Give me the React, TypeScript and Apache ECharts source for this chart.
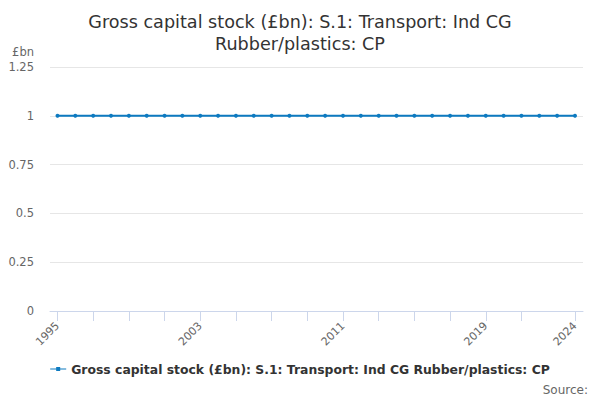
import React, { useEffect, useRef } from "react";
import * as echarts from "echarts";

const years: number[] = [
  1995, 1996, 1997, 1998, 1999, 2000, 2001, 2002, 2003, 2004, 2005, 2006, 2007, 2008, 2009,
  2010, 2011, 2012, 2013, 2014, 2015, 2016, 2017, 2018, 2019, 2020, 2021, 2022, 2023, 2024,
];
const values: number[] = [
  1, 1, 1, 1, 1, 1, 1, 1, 1, 1, 1, 1, 1, 1, 1,
  1, 1, 1, 1, 1, 1, 1, 1, 1, 1, 1, 1, 1, 1, 1,
];
const xLabelYears: number[] = [1995, 2003, 2011, 2019, 2024];
const xTickYears: number[] = [1995, 1997, 1999, 2001, 2003, 2005, 2007, 2009, 2011, 2013, 2015, 2017, 2019, 2021, 2024];
const seriesName = "Gross capital stock (£bn): S.1: Transport: Ind CG Rubber/plastics: CP";
const titleText = "Gross capital stock (£bn): S.1: Transport: Ind CG\nRubber/plastics: CP";

const FONT = "DejaVu Sans";
const COLOR = "#0d7ac0";

export default function App() {
  const ref = useRef<HTMLDivElement>(null);
  useEffect(() => {
    if (!ref.current) return;
    const chart = echarts.init(ref.current, null, { renderer: "svg" });
    chart.setOption({
      animation: false,
      textStyle: { fontFamily: FONT },
      title: {
        text: titleText,
        left: "center",
        top: 6,
        textStyle: { fontFamily: FONT, fontSize: 17.6, fontWeight: "normal", color: "#333333", lineHeight: 22 },
      },
      grid: { left: 50, right: 17, top: 67, bottom: 89 },
      xAxis: {
        type: "value",
        min: 1994.58,
        max: 2024.45,
        splitLine: { show: false },
        axisLine: { show: true, lineStyle: { color: "#ccd6eb", width: 1 } },
        axisTick: { show: true, length: 10, lineStyle: { color: "#ccd6eb" }, customValues: xTickYears },
        axisLabel: {
          customValues: xLabelYears,
          rotate: 45,
          color: "#666666",
          fontSize: 11,
          fontFamily: FONT,
          margin: 13,
          formatter: (v: number) => String(Math.round(v)),
        },
      },
      yAxis: {
        type: "value",
        min: 0,
        max: 1.25,
        interval: 0.25,
        name: "£bn",
        nameLocation: "end",
        nameGap: 9,
        nameTextStyle: { color: "#666666", fontSize: 11.5, fontFamily: FONT, align: "right", padding: [0, 16, 0, 0] },
        axisLine: { show: false },
        axisTick: { show: false },
        splitLine: { lineStyle: { color: "#e6e6e6", width: 1 } },
        axisLabel: { color: "#666666", fontSize: 11.5, fontFamily: FONT, margin: 16 },
      },
      legend: {
        bottom: 20,
        left: "center",
        itemWidth: 16,
        itemHeight: 8,
        itemGap: 10,
        textStyle: { fontFamily: FONT, fontSize: 12.4, fontWeight: "bold", color: "#333333" },
        data: [{ name: seriesName, icon: "path://M0,3.5 L16,3.5 L16,4.5 L0,4.5 Z M6,2 L10,2 L10,6 L6,6 Z" }],
      },
      graphic: [
        {
          type: "text",
          right: 12,
          bottom: 4,
          style: { text: "Source:", fill: "#666666", fontSize: 12, fontFamily: FONT },
        },
      ],
      series: [
        {
          name: seriesName,
          type: "line",
          data: years.map((y, i) => [y, values[i]]),
          color: COLOR,
          lineStyle: { width: 2, color: COLOR },
          symbol: "circle",
          symbolSize: 4,
          itemStyle: { color: COLOR },
        },
      ],
    });
    return () => chart.dispose();
  }, []);
  return <div ref={ref} style={{ position: "absolute", left: 0, top: 0, width: 600, height: 400 }} />;
}
